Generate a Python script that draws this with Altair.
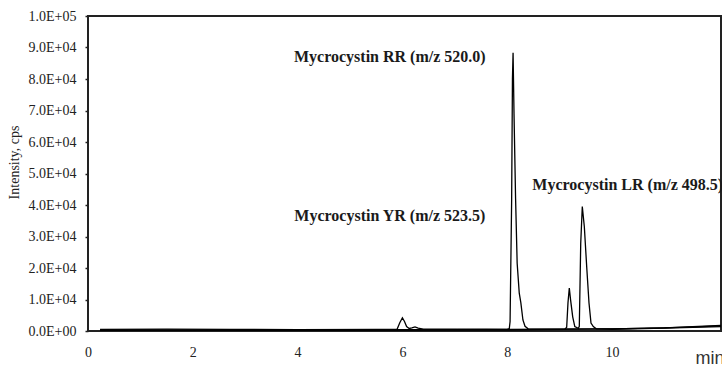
import altair as alt
import pandas as pd

# Extracted-ion chromatograms, one list pair per monitored m/z
rr_time = [0.23, 1.0, 2.0, 3.0, 4.0, 5.0, 6.0, 7.0, 7.6, 8.00, 8.04, 8.055, 8.085, 8.10,
           8.112, 8.13, 8.16, 8.19, 8.23, 8.26, 8.30, 8.34, 8.40, 9.0, 10.0, 11.0, 11.6, 12.08]
rr_int = [300, 350, 300, 350, 300, 350, 400, 450, 500, 500, 800, 3000, 42000, 80000,
          88300, 69000, 42000, 21500, 12000, 9000, 3500, 1500, 700, 600, 700, 1000, 1300, 1600]

yr_time = [0.23, 1.5, 2.7, 4.0, 5.5, 5.90, 5.95, 6.00, 6.04, 6.08, 6.13, 6.18, 6.24, 6.30,
           6.40, 7.0, 8.0, 9.0, 10.0, 11.0, 12.08]
yr_int = [500, 600, 500, 450, 500, 600, 2600, 4200, 3000, 1400, 800, 1000, 1300, 900,
          600, 550, 500, 550, 700, 1000, 1800]

lr_time = [0.23, 2.0, 4.0, 6.0, 8.0, 9.10, 9.135, 9.16, 9.185, 9.21, 9.25, 9.29, 9.357,
           9.376, 9.403, 9.433, 9.472, 9.517, 9.561, 9.599, 9.643, 9.70, 10.0, 11.0, 12.08]
lr_int = [200, 250, 200, 250, 300, 500, 1200, 9000, 13600, 9800, 4500, 1400, 850,
          1500, 27800, 39500, 33100, 20400, 8900, 2500, 1400, 700, 500, 900, 1400]

# Peak annotations
label_text = ["Mycrocystin RR (m/z 520.0)", "Mycrocystin YR (m/z 523.5)", "Mycrocystin LR (m/z 498.5)"]
label_time = [5.76, 5.76, 10.30]
label_int = [87000, 36500, 46300]

x_ticks = [0, 2, 4, 6, 8, 10]
y_ticks = [i * 10000 for i in range(11)]

traces = pd.concat([
    pd.DataFrame({"t": rr_time, "i": rr_int, "ion": "520.0"}),
    pd.DataFrame({"t": yr_time, "i": yr_int, "ion": "523.5"}),
    pd.DataFrame({"t": lr_time, "i": lr_int, "ion": "498.5"}),
])
labels = pd.DataFrame({"t": label_time, "i": label_int, "text": label_text})

sci_expr = (
    "datum.value == 0 ? '0.0E+00' : "
    "format(datum.value / pow(10, floor(log(datum.value) / LN10 + 1e-9)), '.1f') + 'E+' + "
    "format(floor(log(datum.value) / LN10 + 1e-9), '02d')"
)

x_scale = alt.Scale(domain=[0, 12.08], nice=False, zero=False)
y_scale = alt.Scale(domain=[0, 100000], nice=False)

x_axis = alt.Axis(values=x_ticks, ticks=False, domain=False, grid=False,
                  labelFlush=False, labelOverlap=False,
                  labelPadding=14, labelFont="Liberation Serif", labelFontSize=14,
                  labelColor="#222", title="min", titleFont="Liberation Sans",
                  titleFontSize=18, titleFontWeight="normal", titleColor="#333",
                  titleX=607, titleY=27, titleAlign="left", titleBaseline="middle")
y_axis = alt.Axis(values=y_ticks, tickCount=11, labelExpr=sci_expr, ticks=True, tickSize=3,
                  tickColor="#222", tickWidth=1.5, domain=False, grid=False,
                  labelOverlap=False, labelFlush=False,
                  labelPadding=9, labelFont="Liberation Serif", labelFontSize=14,
                  labelColor="#222", title="Intensity, cps",
                  titleFont="Liberation Serif", titleFontSize=14,
                  titleFontWeight="normal", titleColor="#222", titleX=-74,
                  titleY=146, titleAngle=270, titleAlign="center",
                  titleBaseline="middle")

lines = alt.Chart(traces).mark_line(color="black", strokeWidth=1.3).encode(
    x=alt.X("t:Q", scale=x_scale, axis=x_axis),
    y=alt.Y("i:Q", scale=y_scale, axis=y_axis),
    detail="ion:N",
)

texts = alt.Chart(labels).mark_text(
    font="Liberation Serif", fontSize=16, fontWeight="bold", color="#1a1a1a",
    align="center", baseline="middle",
).encode(
    x=alt.X("t:Q", scale=x_scale, axis=x_axis),
    y=alt.Y("i:Q", scale=y_scale, axis=y_axis),
    text="text:N",
)

chart = (lines + texts).properties(
    width=633, height=315,
    autosize=alt.AutoSizeParams(type="none"),
    padding={"left": 88, "top": 16, "right": 1, "bottom": 34},
    background="white",
).configure_view(stroke="#222", strokeWidth=2)

chart.save("out.html", embed_options={"renderer": "svg", "actions": False})
